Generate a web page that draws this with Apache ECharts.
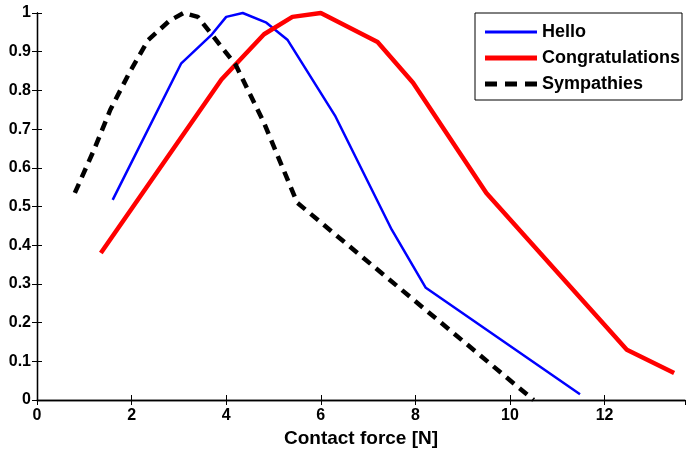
<!DOCTYPE html>
<html>
<head>
<meta charset="utf-8">
<style>
  html, body { margin: 0; padding: 0; background: #fff; }
  #chart { width: 690px; height: 449px; }
</style>
<script src="https://cdn.jsdelivr.net/npm/echarts@6/dist/echarts.min.js"></script>
</head>
<body>
<div id="chart"></div>
<script>
const helloX = [1.6, 3.05, 3.7, 4.0, 4.35, 4.85, 5.3, 6.3, 7.5, 8.22, 11.48]
const helloY = [0.517, 0.87, 0.945, 0.99, 1.0, 0.975, 0.93, 0.735, 0.44, 0.29, 0.015]

const congratsX = [1.35, 3.9, 4.8, 5.4, 6.0, 7.2, 7.95, 9.5, 12.47, 13.47]
const congratsY = [0.38, 0.828, 0.945, 0.99, 1.0, 0.925, 0.82, 0.535, 0.13, 0.07]

const sympathyX = [0.8, 1.2, 1.55, 1.95, 2.35, 2.8, 3.1, 3.4, 4.2, 4.8, 5.5, 10.5]
const sympathyY = [0.535, 0.645, 0.75, 0.845, 0.93, 0.98, 1.0, 0.99, 0.866, 0.716, 0.51, 0.0]

const seriesNames = ['Hello', 'Congratulations', 'Sympathies']

function pairs(xs, ys) {
  return xs.map((x, i) => [x, ys[i]])
}

const font = 'Liberation Sans, Arial, sans-serif'
const tickStyle = { color: '#000', width: 1 }
const frameLine = { lineStyle: { color: '#000', width: 1.3 } }

// legend swatches drawn as paths so no marker dot shows up
const legendIcons = {
  Hello: 'path://M0,0h52v3h-52z',
  Congratulations: 'path://M0,0h52v5h-52z',
  Sympathies: 'path://M0,0h12v5h-12z M20,0h12v5h-12z M40,0h12v5h-12z'
}

const chart = echarts.init(document.getElementById('chart'))

chart.setOption({
  animation: false,
  grid: { left: 37, right: 5, top: 13, bottom: 49, outerBoundsMode: 'none', containLabel: false },
  legend: {
    data: seriesNames.map(n => ({ name: n, icon: legendIcons[n] })),
    orient: 'vertical',
    right: 8,
    top: 13,
    padding: [10, 2, 7, 10],
    itemGap: 8,
    itemWidth: 52,
    itemHeight: 14,
    borderColor: '#000',
    borderWidth: 1,
    backgroundColor: '#fff',
    textStyle: { fontFamily: font, fontWeight: 'bold', fontSize: 18, color: '#000' }
  },
  xAxis: [
    {
      type: 'value',
      min: 0,
      max: 13.7,
      interval: 2,
      name: 'Contact force [N]',
      nameLocation: 'middle',
      nameGap: 29,
      nameTextStyle: { fontFamily: font, fontWeight: 'bold', fontSize: 19, color: '#000' },
      axisLine: frameLine,
      axisTick: { inside: true, length: 5, lineStyle: tickStyle },
      axisLabel: { fontFamily: font, fontWeight: 'bold', fontSize: 16, color: '#000', margin: 8, showMaxLabel: false },
      splitLine: { show: false }
    },
    {
      type: 'value',
      position: 'top',
      min: 0,
      max: 13.7,
      interval: 2,
      axisLine: frameLine,
      axisTick: { inside: true, length: 5, lineStyle: tickStyle },
      axisLabel: { show: false },
      splitLine: { show: false }
    }
  ],
  yAxis: [
    {
      type: 'value',
      min: 0,
      max: 1,
      interval: 0.1,
      axisLine: { show: true, ...frameLine },
      axisTick: { show: true, inside: true, length: 5, lineStyle: tickStyle },
      axisLabel: {
        fontFamily: font, fontWeight: 'bold', fontSize: 16, color: '#000', margin: 6,
        formatter: v => String(Math.round(v * 10) / 10)
      },
      splitLine: { show: false }
    },
    {
      type: 'value',
      position: 'right',
      min: 0,
      max: 1,
      interval: 0.1,
      axisLine: { show: true, ...frameLine },
      axisTick: { show: true, inside: true, length: 5, lineStyle: tickStyle },
      axisLabel: { show: false },
      splitLine: { show: false }
    }
  ],
  series: [
    {
      name: 'Hello',
      type: 'line',
      symbol: 'none',
      clip: false,
      data: pairs(helloX, helloY),
      lineStyle: { color: '#0000ff', width: 2.5 },
      itemStyle: { color: '#0000ff' }
    },
    {
      name: 'Congratulations',
      type: 'line',
      symbol: 'none',
      clip: false,
      data: pairs(congratsX, congratsY),
      lineStyle: { color: '#ff0000', width: 4.5 },
      itemStyle: { color: '#ff0000' }
    },
    {
      name: 'Sympathies',
      type: 'line',
      symbol: 'none',
      clip: false,
      data: pairs(sympathyX, sympathyY),
      lineStyle: { color: '#000', width: 4.5, type: [10, 7] },
      itemStyle: { color: '#000' }
    }
  ]
})
</script>
</body>
</html>
